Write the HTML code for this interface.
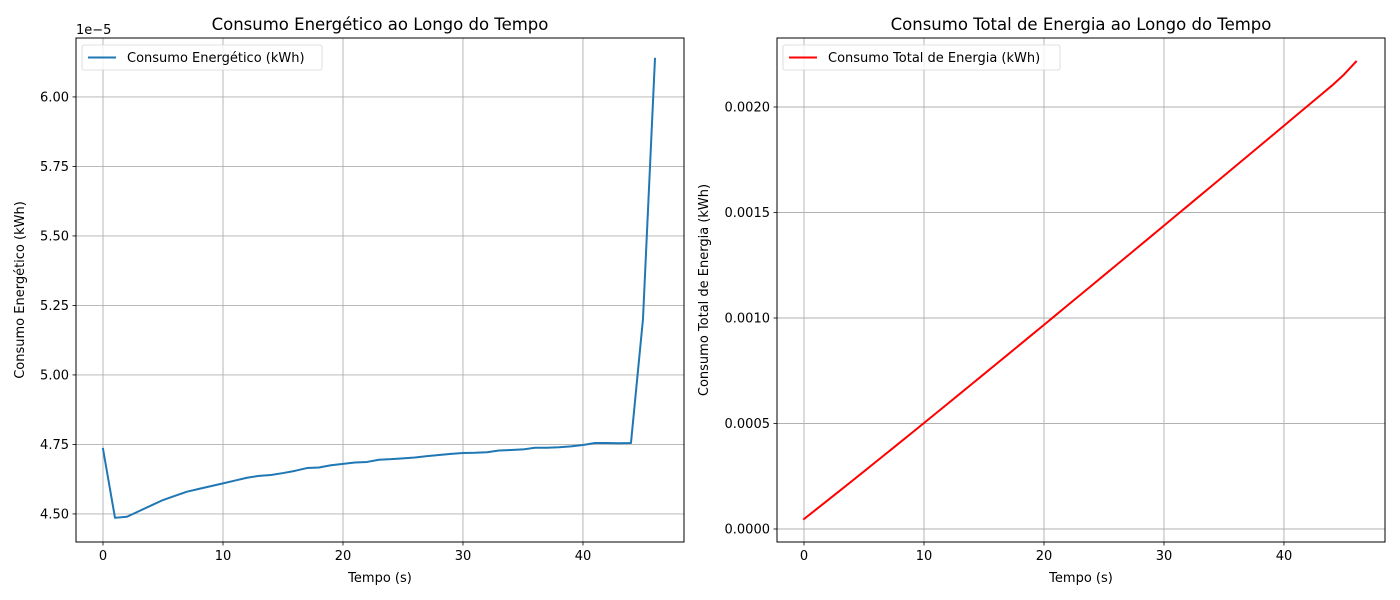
<!DOCTYPE html>
<html><head><meta charset="utf-8"><style>
html,body{margin:0;padding:0;background:#fff;}
svg{display:block;font-family:"DejaVu Sans","Liberation Sans",sans-serif;}
</style></head><body>
<svg id="chart" width="1400" height="600" viewBox="0 0 1400 600"></svg>
<script>
const timeSteps = [0,1,2,3,4,5,6,7,8,9,10,11,12,13,14,15,16,17,18,19,20,21,22,23,24,25,26,27,28,29,30,31,32,33,34,35,36,37,38,39,40,41,42,43,44,45,46];
const energyE5 = [4.734,4.486,4.49,4.51,4.53,4.55,4.565,4.58,4.59,4.60,4.61,4.62,4.63,4.637,4.64,4.647,4.655,4.665,4.667,4.675,4.68,4.685,4.687,4.695,4.697,4.70,4.703,4.708,4.712,4.716,4.719,4.72,4.722,4.728,4.73,4.732,4.738,4.738,4.74,4.743,4.748,4.755,4.755,4.754,4.755,5.20,6.137];
const totalEnergy = [0.0000473,0.0000921,0.0001370,0.0001821,0.0002274,0.0002729,0.0003186,0.0003644,0.0004103,0.0004563,0.0005024,0.0005486,0.0005949,0.0006413,0.0006877,0.0007342,0.0007807,0.0008274,0.0008741,0.0009208,0.0009676,0.0010145,0.0010614,0.0011083,0.0011553,0.0012023,0.0012493,0.0012964,0.0013435,0.0013907,0.0014379,0.0014851,0.0015323,0.0015796,0.0016269,0.0016742,0.0017216,0.0017690,0.0018164,0.0018638,0.0019113,0.0019589,0.0020064,0.0020540,0.0021015,0.0021535,0.0022149];
const xTicks = [0,10,20,30,40];
const leftYTicks = [4.50,4.75,5.00,5.25,5.50,5.75,6.00];
const leftYLabels = ["4.50","4.75","5.00","5.25","5.50","5.75","6.00"];
const rightYTicks = [0,0.0005,0.001,0.0015,0.002];
const rightYLabels = ["0.0000","0.0005","0.0010","0.0015","0.0020"];

const NS="http://www.w3.org/2000/svg";
const svg=document.getElementById('chart');
function mk(tag,attrs,parent){const e=document.createElementNS(NS,tag);for(const k in attrs)e.setAttribute(k,attrs[k]);(parent||svg).appendChild(e);return e;}

function panel(o){
  const g=mk('g',{});
  
  
  const sx=v=>o.x0+(v-o.xmin)/(o.xmax-o.xmin)*(o.x1-o.x0);
  const sy=v=>o.y1-(v-o.ymin)/(o.ymax-o.ymin)*(o.y1-o.y0);
  o.xt.forEach(t=>{const l=mk('line',{x1:sx(t),x2:sx(t),y1:o.y0,y2:o.y1,stroke:'#b0b0b0','stroke-width':0.9},g);
    });
  o.yt.forEach(t=>{const l=mk('line',{x1:o.x0,x2:o.x1,y1:sy(t),y2:sy(t),stroke:'#b0b0b0','stroke-width':0.9},g);
    });
  const pts=o.xs.map((x,i)=>sx(x).toFixed(2)+','+sy(o.ys[i]).toFixed(2)).join(' ');
  const pl=mk('polyline',{points:pts,fill:'none',stroke:o.color,'stroke-width':2,'stroke-linejoin':'round','stroke-linecap':'square'},g);
  
  
  const fr=mk('rect',{x:o.x0,y:o.y0,width:o.x1-o.x0,height:o.y1-o.y0,fill:'none',stroke:'#000','stroke-width':1},g);
  
  o.xt.forEach(t=>{mk('line',{x1:sx(t),x2:sx(t),y1:o.y1,y2:o.y1+3.5,stroke:'#000','stroke-width':0.8},g);
    const tx=mk('text',{x:sx(t),y:o.y1+18,'text-anchor':'middle','font-size':13},g);tx.textContent=t;
    });
  o.yt.forEach((t,i)=>{mk('line',{x1:o.x0-3.5,x2:o.x0,y1:sy(t),y2:sy(t),stroke:'#000','stroke-width':0.8},g);
    const tx=mk('text',{x:o.x0-7,y:sy(t)+4.5,'text-anchor':'end','font-size':13},g);tx.textContent=o.yl[i];
    });
  const ti=mk('text',{x:(o.x0+o.x1)/2,y:30,'text-anchor':'middle','font-size':16.5},g);ti.textContent=o.title;
  
  const xl=mk('text',{x:(o.x0+o.x1)/2,y:582,'text-anchor':'middle','font-size':13},g);xl.textContent='Tempo (s)';
  
  const yl=mk('text',{x:o.ylx,y:(o.y0+o.y1)/2,'text-anchor':'middle','font-size':13,transform:'rotate(-90 '+o.ylx+' '+(o.y0+o.y1)/2+')'},g);yl.textContent=o.ytitle;
  
  const lg=mk('g',{},g);
  
  mk('rect',{x:o.x0+6,y:45,width:o.legW,height:25,rx:2,fill:'#fff','fill-opacity':0.8,stroke:'#d6d6d6','stroke-width':0.8},lg);
  mk('line',{x1:o.x0+12,x2:o.x0+40,y1:57.5,y2:57.5,stroke:o.color,'stroke-width':2},lg);
  const lt=mk('text',{x:o.x0+51,y:62,'font-size':13},lg);lt.textContent=o.legText;
  
  if(o.offset){const of=mk('text',{x:o.x0,y:34,'font-size':13},g);of.textContent=o.offset;
    }
}
panel({name:'energy-panel',x0:76,x1:684,y0:38,y1:542,xmin:-2.25,xmax:48.42,ymin:4.399,ymax:6.212,
  xs:timeSteps,ys:energyE5,xt:xTicks,yt:leftYTicks,yl:leftYLabels,color:'#1f77b4',seriesName:'energy-line',
  title:'Consumo Energético ao Longo do Tempo',ytitle:'Consumo Energético (kWh)',ylx:24,legW:240,
  legText:'Consumo Energético (kWh)',offset:'1e\u22125'});
panel({name:'total-energy-panel',x0:777,x1:1385,y0:38,y1:542,xmin:-2.25,xmax:48.42,ymin:-0.0000616,ymax:0.002327,
  xs:timeSteps,ys:totalEnergy,xt:xTicks,yt:rightYTicks,yl:rightYLabels,color:'#ff0000',seriesName:'total-energy-line',
  title:'Consumo Total de Energia ao Longo do Tempo',ytitle:'Consumo Total de Energia (kWh)',ylx:708,legW:277,
  legText:'Consumo Total de Energia (kWh)'});
</script>
</body></html>
